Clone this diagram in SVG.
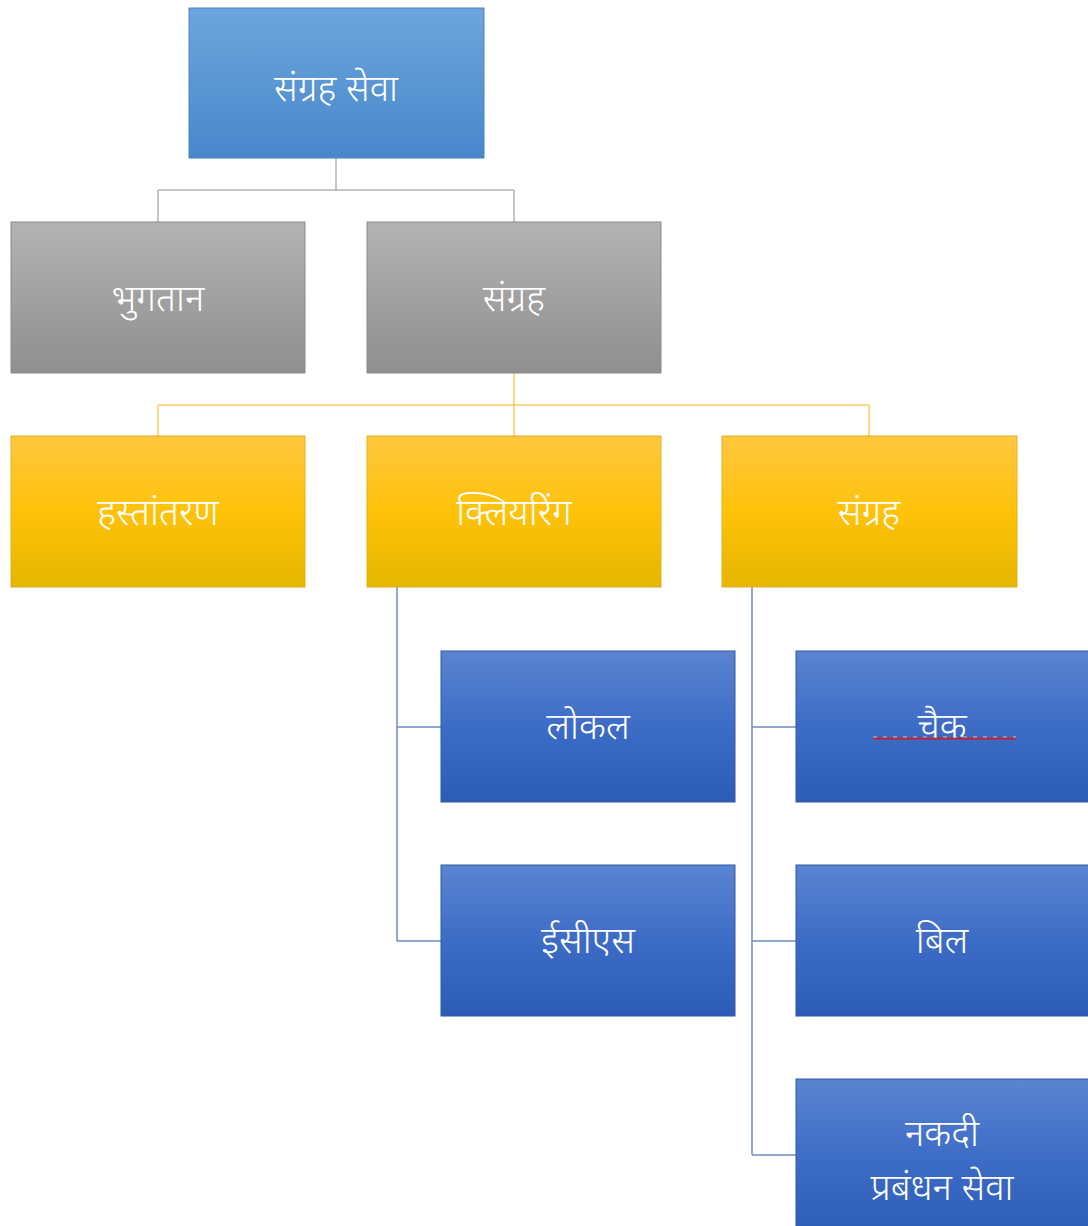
<svg xmlns="http://www.w3.org/2000/svg" width="1088" height="1226" viewBox="0 0 1088 1226">
<defs>
<linearGradient id="gTop" x1="0" y1="0" x2="0" y2="1"><stop offset="0" stop-color="#6da6de"/><stop offset="1" stop-color="#4787ca"/></linearGradient>
<linearGradient id="gGray" x1="0" y1="0" x2="0" y2="1"><stop offset="0" stop-color="#b3b3b3"/><stop offset="1" stop-color="#8f8f8f"/></linearGradient>
<linearGradient id="gYel" x1="0" y1="0" x2="0" y2="1"><stop offset="0" stop-color="#ffc840"/><stop offset="0.5" stop-color="#ffc20a"/><stop offset="1" stop-color="#e6b600"/></linearGradient>
<linearGradient id="gBlue" x1="0" y1="0" x2="0" y2="1"><stop offset="0" stop-color="#5b84d0"/><stop offset="0.5" stop-color="#3d6cc6"/><stop offset="1" stop-color="#2c5cb6"/></linearGradient>
</defs>
<style>
text{font-family:"Noto Sans","Noto Sans Devanagari","Lohit Devanagari",sans-serif;font-size:37px;font-weight:300;fill:#ffffff;text-anchor:middle}
.top{fill:url(#gTop);stroke:#4a84c0;stroke-width:1}
.gray{fill:url(#gGray);stroke:#8a8a8a;stroke-width:1}
.yel{fill:url(#gYel);stroke:#e0b020;stroke-width:1}
.blue{fill:url(#gBlue);stroke:#2f58a8;stroke-width:1}
.cg{stroke:#b4b4b4;stroke-width:1.5;fill:none}
.cy{stroke:#f5cc60;stroke-width:1.5;fill:none}
.cb{stroke:#6d8cc0;stroke-width:1.5;fill:none}
</style>
<rect width="1088" height="1226" fill="#ffffff"/>
<g id="connectors">
<path class="cg" d="M336 158V190M158 190H514M158 190V222M514 190V222"/>
<path class="cy" d="M514 373V405M158 405H869M158 405V436M514 405V436M869 405V436"/>
<path class="cb" d="M397 587V941M397 727H441M397 941H441"/>
<path class="cb" d="M752 587V1155M752 727H796M752 941H796M752 1155H796"/>
</g>
<g id="n-root"><rect class="top" x="189" y="8" width="295" height="150"/><text x="336" y="101">संग्रह सेवा</text></g>
<g id="n-bhugtan"><rect class="gray" x="11" y="222" width="294" height="151"/><text x="158" y="311">भुगतान</text></g>
<g id="n-sangrah1"><rect class="gray" x="367" y="222" width="294" height="151"/><text x="514" y="311">संग्रह</text></g>
<g id="n-hastantaran"><rect class="yel" x="11" y="436" width="294" height="151"/><text x="158" y="525">हस्तांतरण</text></g>
<g id="n-clearing"><rect class="yel" x="367" y="436" width="294" height="151"/><text x="514" y="525">क्लियरिंग</text></g>
<g id="n-sangrah2"><rect class="yel" x="722" y="436" width="295" height="151"/><text x="869" y="525">संग्रह</text></g>
<g id="n-local"><rect class="blue" x="441" y="651" width="294" height="151"/><text x="588" y="739">लोकल</text></g>
<g id="n-ecs"><rect class="blue" x="441" y="865" width="294" height="151"/><text x="588" y="953">ईसीएस</text></g>
<g id="n-cheque"><rect class="blue" x="796" y="651" width="300" height="151"/><text x="942" y="739">चैक</text><line x1="873" y1="738.5" x2="1016" y2="738.5" stroke="#c8202a" stroke-width="1.8"/><line x1="873" y1="737" x2="1016" y2="737" stroke="#f0d0d8" stroke-width="0.8" stroke-dasharray="4 6"/></g>
<g id="n-bill"><rect class="blue" x="796" y="865" width="300" height="151"/><text x="942" y="953">बिल</text></g>
<g id="n-cash"><rect class="blue" x="796" y="1079" width="300" height="160"/><text x="942" y="1146">नकदी</text><text x="942" y="1200">प्रबंधन सेवा</text></g>
</svg>
